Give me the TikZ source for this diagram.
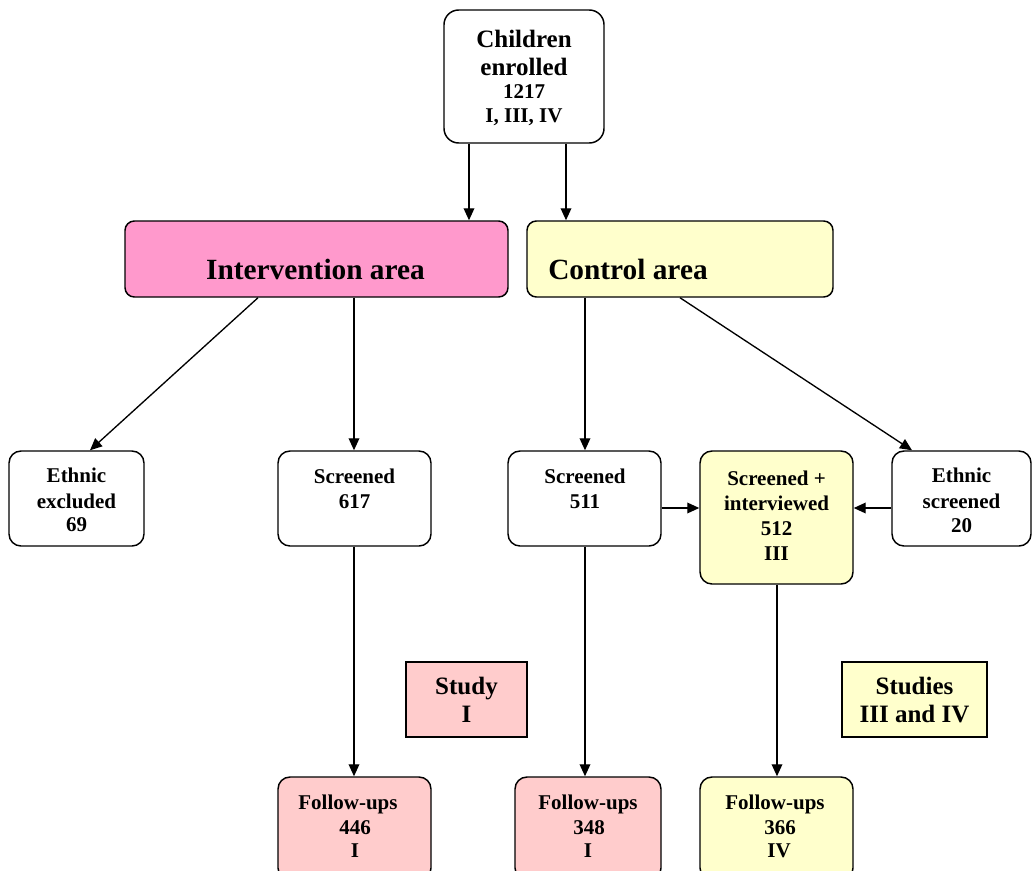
\documentclass[tikz,border=0pt]{standalone}
\usepackage{fontspec}
\setmainfont{Liberation Serif}
\usetikzlibrary{arrows.meta}
\definecolor{pinkA}{HTML}{FF99CC}
\definecolor{pinkB}{HTML}{FFCCCC}
\definecolor{yelA}{HTML}{FFFFCC}
\tikzset{
  box/.style={draw, line width=1.1pt, rounded corners=9pt, inner sep=0pt},
  sqbox/.style={draw, line width=1.1pt, inner sep=0pt},
  txt/.style={font=\bfseries\fontsize{15.75}{18}\selectfont, inner sep=0pt, anchor=base},
  txtm/.style={font=\bfseries\fontsize{18.75}{22}\selectfont, inner sep=0pt, anchor=base},
  txtl/.style={font=\bfseries\fontsize{22}{26}\selectfont, inner sep=0pt, anchor=base},
  arr/.style={line width=1pt, -{Triangle[length=9pt,width=8pt]}},
}
\begin{document}
\begin{tikzpicture}[x=0.75pt,y=-0.75pt]
\useasboundingbox (0,0) rectangle (1032,871);
\clip (0,0) rectangle (1032,871);
% boxes
\node[box, rounded corners=11pt, minimum width=120pt, minimum height=99.75pt] (child) at (524,76.5) {};
\node[box, fill=pinkA, rounded corners=7pt, minimum width=287.25pt, minimum height=57pt] (inter) at (316.5,259) {};
\node[box, fill=yelA, rounded corners=7pt, minimum width=229.5pt, minimum height=57pt] (ctrl) at (680,259) {};
\node[box, minimum width=101.25pt, minimum height=71.25pt] (ethx) at (76.5,498.5) {};
\node[box, minimum width=114.75pt, minimum height=71.25pt] (scr1) at (354.5,498.5) {};
\node[box, minimum width=114.75pt, minimum height=71.25pt] (scr2) at (584.5,498.5) {};
\node[box, fill=yelA, minimum width=114.75pt, minimum height=99.75pt] (si) at (776.5,517.5) {};
\node[box, minimum width=104.25pt, minimum height=71.25pt] (eths) at (961.5,498.5) {};
\node[sqbox, fill=pinkB, minimum width=90.75pt, minimum height=56.25pt] (st1) at (466.5,699.5) {};
\node[sqbox, fill=yelA, minimum width=108.75pt, minimum height=56.25pt] (st34) at (914.5,699.5) {};
\node[box, fill=pinkB, minimum width=114.75pt, minimum height=77.25pt] (fu1) at (354.5,828.5) {};
\node[box, fill=pinkB, minimum width=109.5pt, minimum height=77.25pt] (fu2) at (588,828.5) {};
\node[box, fill=yelA, minimum width=114.75pt, minimum height=77.25pt] (fu3) at (776.5,828.5) {};
% texts
\node[txtm] (c1) at (524,47) {Children};
\node[txtm] (c2) at (524,75) {enrolled};
\node[txt] (c3) at (524,98) {1217};
\node[txt] (c4) at (524,122) {I, III, IV};
\node[txtl] (ia) at (315.5,279) {Intervention area};
\node[txtl, anchor=base west] (ca) at (548,279) {Control area};
\node[txt] (e1) at (76.5,482) {Ethnic};
\node[txt] (e2) at (76.5,508) {excluded};
\node[txt] (e3) at (76.5,531) {69};
\node[txt] (s1) at (354.5,483) {Screened};
\node[txt] (s2) at (354.5,508) {617};
\node[txt] (r1) at (585,483) {Screened};
\node[txt] (r2) at (585,508) {511};
\node[txt] (i1) at (776.5,485) {Screened +};
\node[txt] (i2) at (776.5,510) {interviewed};
\node[txt] (i3) at (776.5,535) {512};
\node[txt] (i4) at (776.5,560) {III};
\node[txt] (h1) at (961.5,482) {Ethnic};
\node[txt] (h2) at (961.5,508) {screened};
\node[txt] (h3) at (961.5,532) {20};
\node[txtm] (y1) at (466.5,694) {Study};
\node[txtm] (y2) at (466.5,722) {I};
\node[txtm] (z1) at (914.5,694) {Studies};
\node[txtm] (z2) at (914.5,722) {III and IV};
\node[txt] (f11) at (348,809) {Follow-ups};
\node[txt] (f12) at (355,834) {446};
\node[txt] (f13) at (355,857) {I};
\node[txt] (f21) at (588,809) {Follow-ups};
\node[txt] (f22) at (589,834) {348};
\node[txt] (f23) at (588,857) {I};
\node[txt] (f31) at (775,809) {Follow-ups};
\node[txt] (f32) at (780,834) {366};
\node[txt] (f33) at (779,857) {IV};
% arrows
\draw[arr] (child.south -| 469,0) -- (inter.north -| 469,0);
\draw[arr] (child.south -| 566,0) -- (ctrl.north -| 566,0);
\draw[arr] (inter.south -| 258,0) -- (ethx.north -| 90,0);
\draw[arr] (inter.south -| 354,0) -- (scr1.north -| 354,0);
\draw[arr] (ctrl.south -| 585,0) -- (scr2.north -| 585,0);
\draw[arr] (ctrl.south -| 680,0) -- (eths.north -| 912,0);
\draw[arr] (scr2.east |- 0,508) -- (si.west |- 0,508);
\draw[arr] (eths.west |- 0,508) -- (si.east |- 0,508);
\draw[arr] (scr1.south -| 354,0) -- (fu1.north -| 354,0);
\draw[arr] (scr2.south -| 585,0) -- (fu2.north -| 585,0);
\draw[arr] (si.south -| 777,0) -- (fu3.north -| 777,0);
\end{tikzpicture}
\end{document}
